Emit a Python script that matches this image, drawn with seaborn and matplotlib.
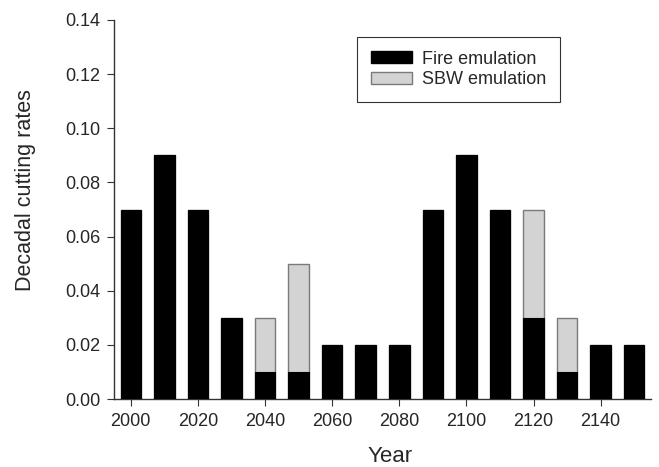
import matplotlib
matplotlib.use("Agg")
import matplotlib.pyplot as plt
from matplotlib.patches import Patch
import seaborn as sns
import pandas as pd

years = [2000, 2010, 2020, 2030, 2040, 2050, 2060, 2070, 2080, 2090,
         2100, 2110, 2120, 2130, 2140, 2150]
fire = [0.07, 0.09, 0.07, 0.03, 0.01, 0.01, 0.02, 0.02, 0.02, 0.07,
        0.09, 0.07, 0.03, 0.01, 0.02, 0.02]
sbw = [0.0, 0.0, 0.0, 0.0, 0.02, 0.04, 0.0, 0.0, 0.0, 0.0,
       0.0, 0.0, 0.04, 0.02, 0.0, 0.0]
yticks = [0.00, 0.02, 0.04, 0.06, 0.08, 0.10, 0.12, 0.14]
xticks = [2000, 2020, 2040, 2060, 2080, 2100, 2120, 2140]

df = pd.DataFrame({"Year": years, "Fire": fire, "SBW": sbw})
df["Total"] = df["Fire"] + df["SBW"]

sns.set_style("ticks")
plt.rcParams["font.family"] = ["Liberation Sans", "DejaVu Sans"]

fig = plt.figure(figsize=(6.59, 4.67), dpi=100)
ax = fig.add_axes([114 / 659, 1 - 399 / 467, (651 - 114) / 659, (399 - 20) / 467])

sns.barplot(data=df, x="Year", y="Total", native_scale=True, width=0.61,
            color="#d3d3d3", edgecolor="#7a7a7a", linewidth=1.0,
            saturation=1, ax=ax, zorder=2)
sns.barplot(data=df, x="Year", y="Fire", native_scale=True, width=0.61,
            color="black", edgecolor="black", linewidth=0.8,
            saturation=1, ax=ax, zorder=3)

ax.set_xlim(1995, 2155)
ax.set_ylim(0, 0.14)
ax.set_xticks(xticks)
ax.set_xticklabels([str(t) for t in xticks])
ax.set_yticks(yticks)
ax.set_yticklabels([f"{t:.2f}" for t in yticks])
ax.tick_params(axis="both", labelsize=13, length=5, width=0.8, color="#333333",
               direction="out", pad=5)
for s in ["top", "right"]:
    ax.spines[s].set_visible(False)
for s in ["left", "bottom"]:
    ax.spines[s].set_linewidth(1.0)
    ax.spines[s].set_color("#333333")

ax.set_xlabel("Year", fontsize=16)
ax.set_ylabel("Decadal cutting rates", fontsize=15.5)
ax.xaxis.set_label_coords((390 - 114) / 537, -0.125)
ax.yaxis.set_label_coords((36 - 114) / 537, (399 - 190) / 379)

handles = [Patch(facecolor="black", edgecolor="black", label="Fire emulation"),
           Patch(facecolor="#d3d3d3", edgecolor="#7a7a7a", label="SBW emulation")]
leg = ax.legend(handles=handles, loc="upper left",
                bbox_to_anchor=((357 - 114) / 537, (399 - 37) / 379),
                fontsize=13, frameon=True, fancybox=False, handlelength=2.3,
                handleheight=0.6, handletextpad=0.55, borderpad=0.75,
                labelspacing=0.2, borderaxespad=0)
leg.get_frame().set_edgecolor("#333333")
leg.get_frame().set_linewidth(0.8)
leg.get_frame().set_alpha(1)

fig.savefig("out.png", dpi=100)
